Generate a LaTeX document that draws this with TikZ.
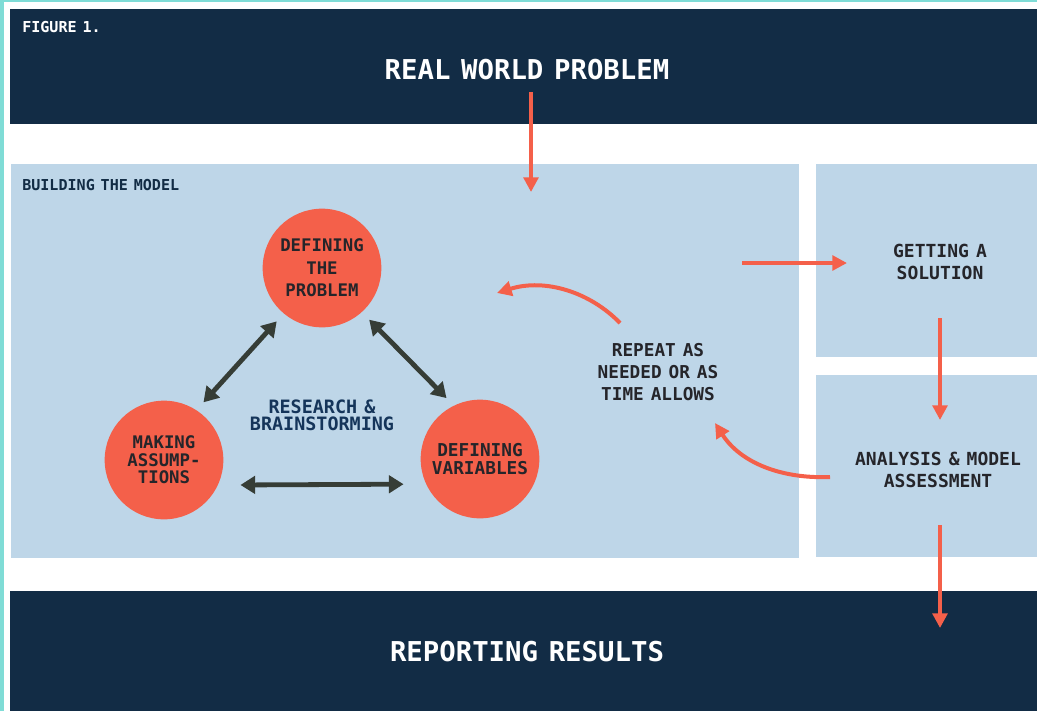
\documentclass[tikz,border=0pt]{standalone}
\usepackage{fontspec}
\newfontfamily\dmono{DejaVu Sans Mono}[WordSpace=0.65]
\usetikzlibrary{arrows.meta,fit}
\definecolor{navy}{HTML}{122C45}
\definecolor{lblue}{HTML}{BED6E8}
\definecolor{coral}{HTML}{F4604A}
\definecolor{tealc}{HTML}{7FDCD6}
\definecolor{darkarr}{HTML}{363D36}
\definecolor{txtdark}{HTML}{25252A}
\definecolor{txtnavy}{HTML}{15355A}
\begin{document}
\begin{tikzpicture}[x=0.75pt,y=-0.75pt,
  panel/.style={inner sep=0pt,outer sep=0pt,draw=none},
  darkpanel/.style={panel,fill=navy},
  lightpanel/.style={panel,fill=lblue},
  circ/.style={circle,fill=coral,minimum size=89pt,inner sep=0pt,outer sep=0pt,align=center,text=txtdark},
  bigtitle/.style={text=white,font=\dmono\bfseries\fontsize{20.5}{22}\selectfont},
  smalltitle/.style={anchor=west,inner sep=0pt,font=\dmono\bfseries\fontsize{11.3}{12}\selectfont},
  boxtext/.style={align=center,text=txtdark,font=\dmono\bfseries\fontsize{13.5}{17}\selectfont},
  dblarrow/.style={draw=darkarr,line width=3.6pt,{Triangle[length=11pt,width=13pt]}-{Triangle[length=11pt,width=13pt]}},
  redarrow/.style={draw=coral,line width=3pt,-{Triangle[length=11pt,width=11pt]}}
]
\useasboundingbox (0,0) rectangle (1037,711);
\fill[tealc] (0,0) rectangle (1037,711);
\fill[white] (4,2) rectangle (1037,711);

% panels
\node[darkpanel,fit={(10,9) (1037,124)}] (rwbox) {};
\node[lightpanel,fit={(11,164) (799,558)}] (bmbox) {};
\node[lightpanel,fit={(816,164) (1037,357)}] (gsbox) {};
\node[lightpanel,fit={(816,375) (1037,557)}] (ambox) {};
\node[darkpanel,fit={(10,591) (1037,711)}] (rrbox) {};

% texts
\node[smalltitle,text=white] (fig) at (22,27) {FIGURE 1.};
\node[bigtitle] (rw) at (527,70) {REAL WORLD PROBLEM};
\node[smalltitle,text=navy] (bm) at (22,185) {BUILDING THE MODEL};
\node[boxtext] (gs) at (940,262) {GETTING A\\SOLUTION};
\node[boxtext] (am) at (938,470) {ANALYSIS \& MODEL\\ASSESSMENT};
\node[boxtext,font=\dmono\bfseries\fontsize{13.3}{16.5}\selectfont] (rep) at (658,372) {REPEAT AS\\NEEDED OR AS\\TIME ALLOWS};
\node[bigtitle] (rr) at (527,652) {REPORTING RESULTS};

% circles
\node[circ,font=\dmono\bfseries\fontsize{13}{17}\selectfont] (dp) at (322,268) {DEFINING\\THE\\PROBLEM};
\node[circ,font=\dmono\bfseries\fontsize{13}{13}\selectfont] (ma) at (164,460) {MAKING\\ASSUMP-\\TIONS};
\node[circ,font=\dmono\bfseries\fontsize{13.3}{13}\selectfont] (dv) at (480,459) {DEFINING\\VARIABLES};
\node[align=center,text=txtnavy,font=\dmono\bfseries\fontsize{13.8}{13}\selectfont] (rb) at (322,415) {RESEARCH \&\\BRAINSTORMING};

% dark double arrows
\draw[dblarrow,shorten <=8pt,shorten >=8pt] (dp.230) -- (ma.57);
\draw[dblarrow,shorten <=8pt,shorten >=8pt] (dp.312) -- (dv.116);
\draw[dblarrow,shorten <=17pt,shorten >=17pt] (ma.-25) -- (dv.205);

% red arrows
\coordinate (rwa) at (531,92);
\coordinate (bma) at (531,192);
\coordinate (gsin1) at (742,263);
\coordinate (gsin2) at (847,263);
\coordinate (gsout) at (940,318);
\coordinate (amin) at (940,420);
\coordinate (amout) at (940,525);
\coordinate (rrin) at (940,628);
\coordinate (up1) at (620,323);
\coordinate (up2) at (497,293);
\coordinate (lo1) at (830,477);
\coordinate (lo2) at (715,423);
\draw[redarrow] (rwa) -- (bma);
\draw[redarrow] (gsin1) -- (gsin2);
\draw[redarrow] (gsout) -- (amin);
\draw[redarrow] (amout) -- (rrin);
\draw[redarrow] (up1) .. controls (590,292) and (545,278) .. (up2);
\draw[redarrow] (lo1) .. controls (780,479) and (740,462) .. (lo2);
\end{tikzpicture}
\end{document}
